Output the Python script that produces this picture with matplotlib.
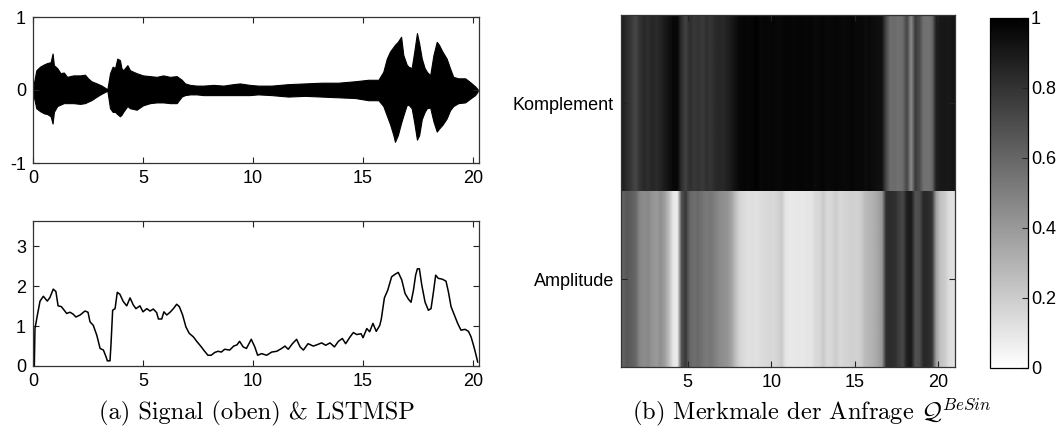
import numpy as np
import matplotlib
matplotlib.use("Agg")
import matplotlib.pyplot as plt

plt.rcParams['font.family'] = ['Liberation Sans', 'DejaVu Sans']
plt.rcParams['mathtext.fontset'] = 'cm'

# --- Signal envelope (upper / lower magnitude) over time in seconds ---
env_t = [0.00, 0.05, 0.15, 0.32, 0.50, 0.65, 0.80, 0.89, 0.95, 1.10, 1.25, 1.40, 1.55,
         1.83, 2.14, 2.36, 2.50, 2.65, 2.90, 3.12, 3.38, 3.50, 3.62, 3.73, 3.83, 3.95,
         4.02, 4.10, 4.29, 4.41, 4.71, 5.00, 5.32, 5.62, 5.92, 6.23, 6.53, 6.76, 6.91,
         7.14, 7.44, 7.74, 8.20, 8.65, 9.10, 9.40, 9.85, 10.23, 10.85, 11.60, 12.36,
         13.12, 13.88, 14.64, 15.24, 15.70, 15.92, 16.08, 16.23, 16.38, 16.45, 16.58,
         16.73, 16.83, 16.98, 17.06, 17.21, 17.33, 17.45, 17.55, 17.67, 17.80, 17.90,
         18.05, 18.20, 18.35, 18.45, 18.60, 18.80, 18.95, 19.10, 19.33, 19.64, 19.86,
         20.09, 20.21]
env_upper = [0.00, 0.11, 0.27, 0.32, 0.35, 0.37, 0.38, 0.50, 0.34, 0.30, 0.23, 0.24, 0.18,
             0.20, 0.20, 0.21, 0.16, 0.12, 0.09, 0.06, 0.01, 0.23, 0.32, 0.30, 0.43, 0.41,
             0.30, 0.27, 0.34, 0.27, 0.23, 0.20, 0.19, 0.18, 0.20, 0.18, 0.19, 0.14, 0.09,
             0.07, 0.06, 0.06, 0.07, 0.06, 0.08, 0.09, 0.07, 0.06, 0.06, 0.08, 0.09,
             0.10, 0.10, 0.12, 0.14, 0.14, 0.25, 0.43, 0.53, 0.59, 0.62, 0.66,
             0.73, 0.48, 0.35, 0.32, 0.30, 0.53, 0.78, 0.64, 0.43, 0.30, 0.25,
             0.20, 0.48, 0.66, 0.62, 0.53, 0.43, 0.30, 0.18, 0.16, 0.16, 0.11,
             0.05, 0.01]
env_lower = [0.00, 0.11, 0.25, 0.29, 0.32, 0.33, 0.36, 0.46, 0.30, 0.22, 0.20, 0.18, 0.18,
             0.18, 0.19, 0.18, 0.16, 0.14, 0.09, 0.05, 0.01, 0.25, 0.30, 0.30, 0.33, 0.36,
             0.34, 0.30, 0.22, 0.25, 0.27, 0.21, 0.18, 0.17, 0.17, 0.18, 0.18, 0.09, 0.07,
             0.06, 0.06, 0.07, 0.07, 0.07, 0.07, 0.07, 0.07, 0.06, 0.07, 0.09, 0.08,
             0.09, 0.10, 0.11, 0.14, 0.14, 0.22, 0.35, 0.47, 0.62, 0.71, 0.62,
             0.45, 0.35, 0.21, 0.20, 0.25, 0.45, 0.68, 0.62, 0.40, 0.30, 0.25,
             0.24, 0.43, 0.57, 0.53, 0.48, 0.39, 0.28, 0.22, 0.18, 0.17, 0.12,
             0.07, 0.02]

# --- LSTMSP curve ---
lst_t = [0.00, 0.03, 0.06, 0.09, 0.20, 0.32, 0.47, 0.65, 0.77, 0.92, 1.04, 1.14, 1.29,
         1.53, 1.68, 1.83, 1.95, 2.14, 2.36, 2.50, 2.59, 2.74, 2.90, 3.05, 3.20, 3.32,
         3.38, 3.50, 3.55, 3.62, 3.73, 3.83, 3.95, 4.10, 4.26, 4.41, 4.56, 4.68, 4.86,
         5.00, 5.17, 5.32, 5.47, 5.62, 5.70, 5.85, 5.95, 6.08, 6.23, 6.38, 6.53, 6.65,
         6.80, 6.95, 7.10, 7.29, 7.44, 7.62, 7.80, 7.95, 8.10, 8.26, 8.41, 8.56, 8.71,
         8.94, 9.12, 9.27, 9.39, 9.55, 9.70, 9.92, 10.08, 10.21, 10.39, 10.62, 10.85,
         11.08, 11.30, 11.45, 11.60, 11.79, 11.98, 12.14, 12.29, 12.50, 12.74, 12.89,
         13.12, 13.30, 13.50, 13.70, 13.88, 14.06, 14.21, 14.41, 14.56, 14.71, 14.91,
         15.00, 15.17, 15.30, 15.45, 15.60, 15.76, 15.83, 15.97, 16.12, 16.30, 16.45,
         16.60, 16.76, 16.91, 17.06, 17.18, 17.29, 17.39, 17.47, 17.56, 17.67, 17.82,
         17.97, 18.09, 18.20, 18.30, 18.42, 18.60, 18.77, 18.88, 19.00, 19.15, 19.30,
         19.45, 19.64, 19.79, 19.91, 20.02, 20.12, 20.21]
lst_v = [0.40, 0.00, 0.00, 0.94, 1.28, 1.63, 1.75, 1.63, 1.72, 1.93, 1.87, 1.51, 1.49,
         1.32, 1.35, 1.30, 1.23, 1.28, 1.38, 1.35, 1.11, 1.02, 0.77, 0.44, 0.40, 0.23,
         0.13, 0.13, 0.60, 1.40, 1.44, 1.85, 1.80, 1.62, 1.51, 1.71, 1.53, 1.44, 1.51,
         1.36, 1.44, 1.38, 1.43, 1.34, 1.18, 1.18, 1.36, 1.28, 1.35, 1.44, 1.55, 1.49,
         1.28, 0.98, 0.82, 0.73, 0.62, 0.50, 0.37, 0.27, 0.27, 0.34, 0.37, 0.35, 0.42,
         0.40, 0.50, 0.53, 0.62, 0.48, 0.44, 0.67, 0.48, 0.27, 0.31, 0.27, 0.35,
         0.37, 0.44, 0.50, 0.42, 0.56, 0.67, 0.48, 0.40, 0.56, 0.50, 0.53,
         0.58, 0.52, 0.58, 0.48, 0.62, 0.69, 0.56, 0.73, 0.84, 0.79, 0.81,
         0.71, 0.94, 0.86, 1.07, 0.87, 1.02, 1.18, 1.71, 1.90, 2.24, 2.30,
         2.35, 2.16, 1.82, 1.68, 1.60, 1.90, 2.28, 2.44, 2.44, 2.03, 1.60,
         1.40, 1.44, 1.86, 2.28, 2.20, 2.18, 2.13, 1.86, 1.49, 1.28, 1.07,
         0.90, 0.92, 0.87, 0.73, 0.52, 0.31, 0.10]

# --- Feature matrix of the query (columns every 0.25 from 1 to 21) ---
feature_rows = ['Amplitude', 'Komplement']
komplement = [0.87, 0.82, 0.78, 0.72, 0.80, 0.84, 0.82, 0.85, 0.83, 0.86, 0.90, 0.93,
              0.97, 0.97, 0.82, 0.74, 0.82, 0.78, 0.80, 0.77, 0.81, 0.79, 0.83, 0.85,
              0.84, 0.87, 0.90, 0.94,
              0.97, 0.98, 0.97, 0.98, 0.99, 0.97, 0.98, 0.97, 0.98, 0.96, 0.97, 0.98,
              0.98, 0.97, 0.98, 0.98, 0.97, 0.98, 0.96, 0.97, 0.98, 0.96, 0.97, 0.98,
              0.97, 0.96, 0.97, 0.98, 0.96, 0.97, 0.95, 0.96, 0.95, 0.94, 0.93,
              0.72, 0.57, 0.58, 0.56, 0.58, 0.73, 0.46, 0.77, 0.70, 0.56, 0.55, 0.58,
              0.88, 0.90, 0.91, 0.90, 0.92]
amplitude = [0.62, 0.66, 0.63, 0.60, 0.48, 0.45, 0.47, 0.42, 0.40, 0.44, 0.38, 0.26,
             0.10, 0.08, 0.68, 0.78, 0.60, 0.57, 0.59, 0.55, 0.52, 0.54, 0.50, 0.46,
             0.44, 0.42, 0.36, 0.25,
             0.17, 0.14, 0.12, 0.13, 0.12, 0.14, 0.15, 0.16, 0.15, 0.17, 0.21, 0.10,
             0.09, 0.09, 0.10, 0.09, 0.11, 0.10, 0.15, 0.16, 0.21, 0.15, 0.16, 0.20,
             0.15, 0.17, 0.18, 0.19, 0.18, 0.20, 0.27, 0.29, 0.31, 0.35, 0.40,
             0.82, 0.83, 0.82, 0.76, 0.72, 0.88, 0.90, 0.68, 0.70, 0.84, 0.83, 0.80,
             0.37, 0.24, 0.21, 0.14, 0.12]
feat_xmin, feat_xmax = 1.0, 21.0

sig_xticks = [0, 5, 10, 15, 20]
feat_xticks = [5, 10, 15, 20]
cbar_ticks = [0, 0.2, 0.4, 0.6, 0.8, 1.0]
cbar_labels = ['0', '0.2', '0.4', '0.6', '0.8', '1']

W, H = 1063, 434
fig = plt.figure(figsize=(W / 100, H / 100), dpi=100)


def box(l, t, r, b):
    return [l / W, 1 - b / H, (r - l) / W, (b - t) / H]


tick_kw = dict(direction='in', length=4, width=0.8, top=True, right=True,
               labelsize=13, pad=5, color='#222222')

# Signal
ax1 = fig.add_axes(box(33, 17, 479, 163))
ax1.fill_between(env_t, [-v for v in env_lower], env_upper, color='black', lw=0.8,
                 edgecolor='black')
ax1.set_xlim(0, 20.27)
ax1.set_ylim(-1, 1)
ax1.set_xticks(sig_xticks)
ax1.set_yticks([-1, 0, 1])
ax1.set_yticklabels(['-1', '0', '1'])
ax1.tick_params(**tick_kw)

# LSTMSP
ax2 = fig.add_axes(box(33, 221, 479, 366))
ax2.plot(lst_t, lst_v, color='black', lw=1.1)
ax2.set_xlim(0, 20.27)
ax2.set_ylim(0, 3.64)
ax2.set_xticks(sig_xticks)
ax2.set_yticks([0, 1, 2, 3])
ax2.tick_params(**tick_kw)

for ax in (ax1, ax2):
    for s in ax.spines.values():
        s.set_linewidth(0.9)
        s.set_color('#333333')

# Feature image
ax3 = fig.add_axes(box(621, 15, 955, 367))
for i, row in enumerate([amplitude, komplement]):
    im = ax3.imshow([row], cmap='gray_r', vmin=0, vmax=1, aspect='auto',
                    interpolation='bilinear',
                    extent=[feat_xmin, feat_xmax, i + 0.5, i + 1.5], origin='lower')
ax3.set_xlim(feat_xmin, feat_xmax)
ax3.set_ylim(0.5, 2.5)
ax3.set_xticks(feat_xticks)
ax3.set_yticks([1, 2])
ax3.set_yticklabels(feature_rows)
ax3.tick_params(**tick_kw)
for s in ax3.spines.values():
    s.set_linewidth(0.9)
    s.set_color('#333333')

cax = fig.add_axes(box(990, 18, 1028, 368))
cb = fig.colorbar(im, cax=cax)
cb.set_ticks(cbar_ticks)
cb.set_ticklabels(cbar_labels)
cax.tick_params(direction='in', length=4, width=0.8, labelsize=13, pad=2,
                color='#222222')
cb.outline.set_linewidth(0.9)

# Captions
cap_kw = dict(fontsize=17.6, family='cmr10', ha='center', va='center')
fig.text(257 / W, 1 - 413 / H, '(a) Signal (oben) & LSTMSP', **cap_kw)
fig.text(812 / W, 1 - 413 / H, r'(b) Merkmale der Anfrage $\mathcal{Q}^{BeSin}$', **cap_kw)

fig.savefig('out.png', dpi=100)
